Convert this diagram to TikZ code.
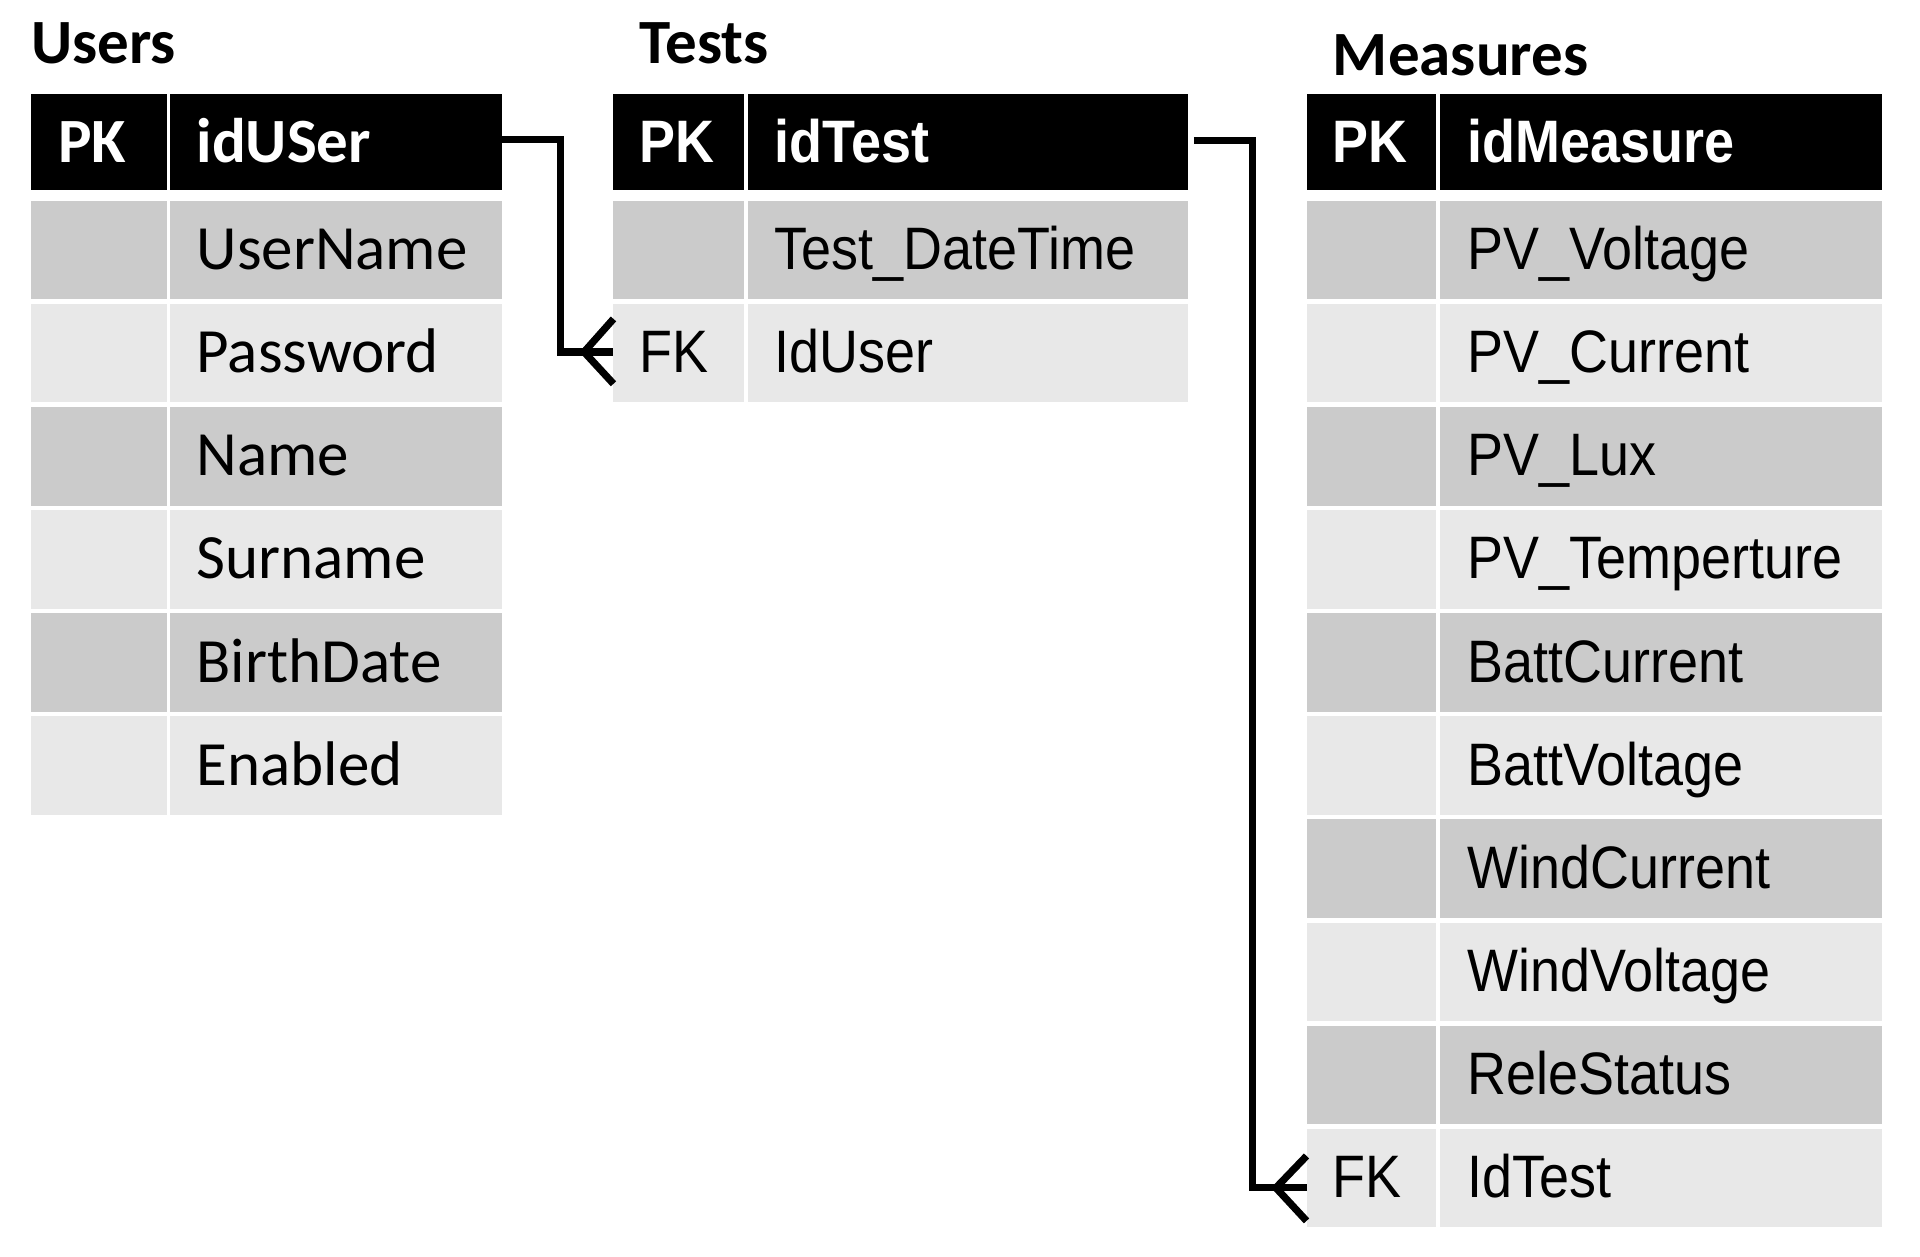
\documentclass[tikz,border=0pt]{standalone}
\usepackage{fontspec}
\setmainfont{Carlito}
\newfontfamily\narrowf[FakeStretch=0.9]{Liberation Sans}
\usetikzlibrary{calc}
\definecolor{rowdark}{HTML}{CBCBCB}
\definecolor{rowlight}{HTML}{E8E8E8}
\tikzset{
  cellbox/.style={draw=none, inner sep=0pt, outer sep=0pt, anchor=north west, minimum height=80.5*0.0125cm},
  hdrbox/.style={cellbox, fill=black, minimum height=78*0.0125cm},
  caltxt/.style={font=\fontsize{18.3}{20}\selectfont, anchor=base west, inner sep=0pt},
  calbold/.style={font=\fontsize{18.3}{20}\selectfont\bfseries, anchor=base west, inner sep=0pt},
  artxt/.style={font=\fontsize{17.4}{20}\selectfont\narrowf, anchor=base west, inner sep=0pt},
  arbold/.style={font=\fontsize{17.4}{20}\selectfont\narrowf\bfseries, anchor=base west, inner sep=0pt},
  conn/.style={line width=2.1pt, line join=miter, black},
}
\begin{document}
\begin{tikzpicture}[x=0.0125cm, y={(0cm,-0.0125cm)}]
\useasboundingbox (0,0) rectangle (1568,1026);

% ---------- titles
\node[calbold] (tUsers) at (25,52) {Users};
\node[calbold] (tTests) at (522,52) {Tests};
\node[calbold] (tMeasures) at (1088,62) {Measures};

% ---------- Users table
\node[hdrbox, minimum width=111*0.0125cm] (uHP) at (25,77) {};
\node[hdrbox, minimum width=271*0.0125cm] (uH) at (139,77) {};
\node[calbold, text=white] (uHPt) at ($(uHP.west)+(22,17)$) {PK};
\node[calbold, text=white] (uHt) at ($(uH.west)+(21,17)$) {idUSer};
\foreach \i/\txt/\col in {1/UserName/rowdark, 2/Password/rowlight, 3/Name/rowdark, 4/Surname/rowlight, 5/BirthDate/rowdark, 6/Enabled/rowlight}{
  \pgfmathsetmacro\yy{164+84.2*(\i-1)}
  \node[cellbox, fill=\col, minimum width=111*0.0125cm] (uP\i) at (25,\yy) {};
  \node[cellbox, fill=\col, minimum width=271*0.0125cm] (uF\i) at (139,\yy) {};
  \node[caltxt] (uT\i) at ($(uF\i.west)+(21,16)$) {\txt};
}

% ---------- Tests table
\node[hdrbox, minimum width=107*0.0125cm] (tHP) at (501,77) {};
\node[hdrbox, minimum width=359*0.0125cm] (tH) at (611,77) {};
\node[arbold, text=white] (tHPt) at ($(tHP.west)+(21,17)$) {PK};
\node[arbold, text=white] (tHt) at ($(tH.west)+(21,17)$) {idTest};
\node[cellbox, fill=rowdark, minimum width=107*0.0125cm] (tP1) at (501,164) {};
\node[cellbox, fill=rowdark, minimum width=359*0.0125cm] (tF1) at (611,164) {};
\node[artxt] (tT1) at ($(tF1.west)+(21,16)$) {Test\_DateTime};
\node[cellbox, fill=rowlight, minimum width=107*0.0125cm] (tFK) at (501,248.2) {};
\node[cellbox, fill=rowlight, minimum width=359*0.0125cm] (tF2) at (611,248.2) {};
\node[artxt] (tFKt) at ($(tFK.west)+(21,16)$) {FK};
\node[artxt] (tT2) at ($(tF2.west)+(21,16)$) {IdUser};

% ---------- Measures table
\node[hdrbox, minimum width=106*0.0125cm] (mHP) at (1067,77) {};
\node[hdrbox, minimum width=361*0.0125cm] (mH) at (1176,77) {};
\node[arbold, text=white] (mHPt) at ($(mHP.west)+(21,17)$) {PK};
\node[arbold, text=white] (mHt) at ($(mH.west)+(22,17)$) {idMeasure};
\foreach \i/\txt/\col in {1/PV\_Voltage/rowdark, 2/PV\_Current/rowlight, 3/PV\_Lux/rowdark, 4/PV\_Temperture/rowlight, 5/BattCurrent/rowdark, 6/BattVoltage/rowlight, 7/WindCurrent/rowdark, 8/WindVoltage/rowlight, 9/ReleStatus/rowdark}{
  \pgfmathsetmacro\yy{164+84.2*(\i-1)}
  \node[cellbox, fill=\col, minimum width=106*0.0125cm] (mP\i) at (1067,\yy) {};
  \node[cellbox, fill=\col, minimum width=361*0.0125cm] (mF\i) at (1176,\yy) {};
  \node[artxt] (mT\i) at ($(mF\i.west)+(22,16)$) {\txt};
}
\node[cellbox, fill=rowlight, minimum width=106*0.0125cm] (mFK) at (1067,921.8) {};
\node[cellbox, fill=rowlight, minimum width=361*0.0125cm] (mF10) at (1176,921.8) {};
\node[artxt] (mFKt) at ($(mFK.west)+(21,16)$) {FK};
\node[artxt] (mT10) at ($(mF10.west)+(22,16)$) {IdTest};

% ---------- connectors
\coordinate (uStart) at ($(uH.east)+(0,-2)$);
\coordinate (uEnd) at ($(tFK.west)+(0,-1)$);
\draw[conn] (uStart) -- ++(48,0) |- (uEnd);
\draw[conn] ($(uEnd)+(0,-27)$) -- ($(uEnd)+(-24,0)$) -- ($(uEnd)+(0,26)$);

\coordinate (tStart) at ($(tH.east)+(5,-1)$);
\coordinate (mEnd) at ($(mFK.west)+(0,8)$);
\draw[conn] (tStart) -- ++(48,0) |- (mEnd);
\draw[conn] ($(mEnd)+(0,-26)$) -- ($(mEnd)+(-25,0)$) -- ($(mEnd)+(0,27)$);
\end{tikzpicture}
\end{document}
